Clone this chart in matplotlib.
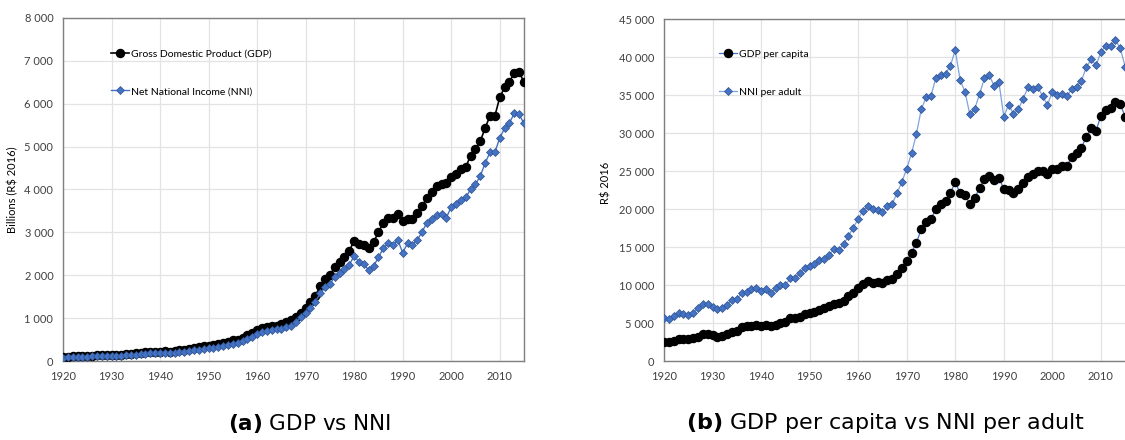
import matplotlib
matplotlib.use("Agg")
import matplotlib.pyplot as plt
from matplotlib.ticker import FuncFormatter, MultipleLocator

years = list(range(1920, 2016))

# Billions of R$ (2016 prices)
gdp = [100, 102, 110, 118, 120, 122, 128, 136, 148, 150,
       148, 145, 150, 160, 172, 178, 195, 205, 213, 218,
       218, 224, 220, 238, 255, 262, 290, 300, 320, 340,
       360, 378, 400, 418, 450, 485, 500, 540, 600, 660,
       720, 776, 800, 815, 823, 862, 902, 956, 1033, 1126,
       1243, 1368, 1522, 1748, 1911, 2005, 2184, 2315, 2417, 2571,
       2804, 2727, 2711, 2626, 2774, 3000, 3224, 3340, 3326, 3427,
       3270, 3310, 3310, 3443, 3620, 3800, 3940, 4085, 4135, 4150,
       4282, 4352, 4475, 4529, 4786, 4942, 5128, 5438, 5718, 5718,
       6147, 6380, 6511, 6720, 6744, 6497]
nni = [80, 82, 90, 96, 98, 100, 105, 112, 122, 124,
       122, 120, 124, 132, 142, 146, 160, 168, 175, 180,
       182, 186, 182, 196, 210, 216, 240, 248, 264, 282,
       300, 314, 332, 348, 375, 405, 420, 455, 505, 560,
       630, 683, 700, 723, 739, 739, 800, 823, 916, 1018,
       1111, 1228, 1382, 1578, 1718, 1788, 1965, 2058, 2137, 2245,
       2448, 2308, 2254, 2121, 2214, 2417, 2626, 2743, 2704, 2820,
       2525, 2743, 2704, 2820, 3014, 3224, 3303, 3403, 3420, 3340,
       3597, 3653, 3760, 3815, 4005, 4126, 4312, 4622, 4865, 4865,
       5205, 5424, 5555, 5774, 5750, 5540]

# R$ 2016
gdp_pc = [2540, 2520, 2670, 2850, 2900, 2880, 3070, 3150, 3550, 3550,
          3380, 3150, 3230, 3550, 3860, 3990, 4430, 4600, 4650, 4740,
          4650, 4700, 4560, 4780, 4960, 5180, 5610, 5610, 5830, 6140,
          6360, 6490, 6710, 6930, 7240, 7500, 7590, 7940, 8550, 8990,
          9560, 10130, 10530, 10300, 10380, 10220, 10660, 10790, 11450, 12240,
          13160, 14250, 15570, 17330, 18290, 18690, 19960, 20660, 21060, 22070,
          23550, 22100, 21850, 20660, 21450, 22730, 23950, 24390, 23820, 24120,
          22630, 22500, 22150, 22630, 23470, 24250, 24610, 25050, 25000, 24610,
          25230, 25230, 25700, 25700, 26800, 27330, 28070, 29520, 30620, 30310,
          32240, 33030, 33250, 34050, 33780, 32150]
nni_pa = [5610, 5480, 5920, 6270, 6190, 6010, 6360, 6930, 7500, 7460,
          7150, 6840, 7020, 7410, 8030, 8115, 8900, 9120, 9430, 9560,
          9210, 9470, 8900, 9560, 10000, 9960, 10880, 10880, 11540, 12200,
          12500, 12720, 13290, 13380, 13950, 14700, 14610, 15350, 16450, 17540,
          18690, 19780, 20400, 19960, 19900, 19610, 20400, 20660, 22100, 23540,
          25310, 27330, 29870, 33120, 34700, 34870, 37240, 37680, 37810, 38820,
          40930, 36980, 35440, 32460, 33160, 35100, 37200, 37640, 36190, 36680,
          32150, 33730, 32500, 33120, 34520, 36020, 35840, 36020, 34870, 33690,
          35440, 35050, 35120, 34870, 35760, 36100, 36890, 38650, 39700, 38910,
          40620, 41500, 41450, 42240, 41150, 38730]

BLUE = "#4472C4"
BLUE_EDGE = "#2F528F"
LIGHT_BLUE = "#7FA3DD"
TEXT = "#404040"
FONT = "Lato"

thousands = FuncFormatter(lambda v, _: f"{v:,.0f}".replace(",", " "))


def style_axes(ax, ymax, ystep):
    ax.set_xlim(1920, 2015)
    ax.set_ylim(0, ymax)
    ax.xaxis.set_major_locator(MultipleLocator(10))
    ax.yaxis.set_major_locator(MultipleLocator(ystep))
    ax.yaxis.set_major_formatter(thousands)
    ax.grid(True, color="#e3e3e3", linewidth=0.9)
    ax.set_axisbelow(True)
    ax.tick_params(length=0, labelsize=8, labelcolor=TEXT, pad=7)
    for lbl in ax.get_xticklabels() + ax.get_yticklabels():
        lbl.set_family(FONT)
    for s in ax.spines.values():
        s.set_color("#7f7f7f")
        s.set_linewidth(1.0)


fig = plt.figure(figsize=(11.25, 4.4), dpi=100)

# (a) aggregate GDP and NNI
ax1 = fig.add_axes([63 / 1125, 79 / 440, 461 / 1125, 343 / 440])
ax1.plot(years, gdp, color="black", marker="o", markersize=5.8, linewidth=1.2,
         label="Gross Domestic Product (GDP)", zorder=3)
ax1.plot(years, nni, color=BLUE, marker="D", markersize=4.4, linewidth=1.0,
         markerfacecolor=BLUE, markeredgecolor=BLUE_EDGE, markeredgewidth=0.5,
         label="Net National Income (NNI)", zorder=4)
style_axes(ax1, 8000, 1000)
ax1.set_ylabel("Billions (R$ 2016)", fontsize=8, color="black", family=FONT)
ax1.yaxis.set_label_coords(-0.098, 0.5)
ax1.legend(loc="upper left", bbox_to_anchor=(0.105, 0.91), frameon=False,
           labelspacing=2.75, handlelength=1.7, handletextpad=0.2,
           borderpad=0, borderaxespad=0, prop={"family": FONT, "size": 7.5})

# (b) per capita / per adult
ax2 = fig.add_axes([664 / 1125, 79 / 440, 466 / 1125, 342 / 440])
ax2.plot(years, gdp_pc, color=BLUE, linewidth=0.9, marker="o", markersize=5.8,
         markerfacecolor="black", markeredgecolor="black",
         label="GDP per capita", zorder=3)
ax2.plot(years, nni_pa, color=LIGHT_BLUE, linewidth=0.9, marker="D", markersize=4.4,
         markerfacecolor=BLUE, markeredgecolor=BLUE_EDGE, markeredgewidth=0.5,
         label="NNI per adult", zorder=4)
style_axes(ax2, 45000, 5000)
ax2.set_xlim(1920, 2016)
ax2.set_ylabel("R$ 2016", fontsize=8, color="black", family=FONT)
ax2.yaxis.set_label_coords(-0.112, 0.52)
ax2.legend(loc="upper left", bbox_to_anchor=(0.118, 0.91), frameon=False,
           labelspacing=2.75, handlelength=1.7, handletextpad=0.2,
           borderpad=0, borderaxespad=0, prop={"family": FONT, "size": 7.5})

fig.text(0.275, 0.038, r"$\bf{(a)}$ GDP vs NNI", ha="center", va="center", fontsize=15.5)
fig.text(0.787, 0.038, r"$\bf{(b)}$ GDP per capita vs NNI per adult", ha="center",
         va="center", fontsize=16)

fig.savefig("out.png", dpi=100)
